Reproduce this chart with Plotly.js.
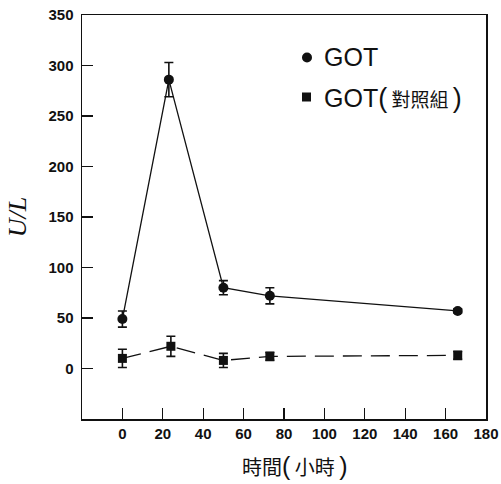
<!DOCTYPE html>
<html><head><meta charset="utf-8">
<script src="https://cdn.plot.ly/plotly-3.0.1.min.js"></script>
<style>html,body{margin:0;padding:0;background:#fff;}#chart{width:501px;height:484px;}</style>
</head><body><div id="chart"></div>
<script>
// Data
var timeGot = [0, 23, 50, 73, 166];
var gotValues = [49, 286, 80, 72, 57];
var gotErrors = [8, 17, 7, 8, 2];

var timeCtl = [0, 24, 50, 73, 166];
var ctlValues = [10, 22, 8, 12, 13];
var ctlErrors = [9, 10, 7, 4, 4];

var xTicks = [0, 20, 40, 60, 80, 100, 120, 140, 160, 180];
var yTicks = [0, 50, 100, 150, 200, 250, 300, 350];

var seriesNames = ['GOT', 'GOT(對照組)'];
var xTitle = ['時間', '小時'];

var tickFont = {family: 'Liberation Sans, Arial, sans-serif', size: 15, color: '#111', weight: 'bold'};
var latin = 'Liberation Sans';
var cjk = 'Noto Sans CJK TC';

var traces = [
  {
    x: timeGot, y: gotValues, name: seriesNames[0], type: 'scatter', mode: 'lines+markers',
    line: {color: '#111', width: 1.3},
    marker: {symbol: 'circle', size: 10, color: '#111'},
    error_y: {type: 'data', array: gotErrors, visible: true, color: '#111', thickness: 1.6, width: 4.5},
    showlegend: false
  },
  {
    x: timeCtl, y: ctlValues, name: seriesNames[1], type: 'scatter', mode: 'lines+markers',
    line: {color: '#111', width: 1.3, dash: '19px,9px'},
    marker: {symbol: 'square', size: 9, color: '#111'},
    error_y: {type: 'data', array: ctlErrors, visible: true, color: '#111', thickness: 1.6, width: 4.5},
    showlegend: false
  }
];

function px2x(p) { return (p - 82) / 404; }
function px2y(p) { return (419 - p) / 404; }

var paren = function (c, s) { return '<span style="font-family:' + latin + ';font-size:' + s + 'px">' + c + '</span>'; };
var cjkSpan = function (t, s) { return '<span style="font-family:' + cjk + ';font-size:' + s + 'px">' + t + '</span>'; };

var layout = {
  width: 501, height: 484,
  margin: {l: 82, r: 15, t: 15, b: 65},
  paper_bgcolor: '#fff', plot_bgcolor: '#fff',
  showlegend: false,
  xaxis: {
    range: [-20, 180], tickvals: xTicks, ticktext: xTicks.map(String),
    ticks: 'inside', ticklen: 11, tickwidth: 1.3, tickcolor: '#111',
    showline: true, linecolor: '#111', linewidth: 1.5, mirror: true,
    showgrid: false, zeroline: false, tickfont: tickFont
  },
  yaxis: {
    range: [-50, 350], tickvals: yTicks, ticktext: yTicks.map(String),
    ticks: 'inside', ticklen: 11, tickwidth: 1.3, tickcolor: '#111',
    showline: true, linecolor: '#111', linewidth: 1.5, mirror: true,
    showgrid: false, zeroline: false, tickfont: tickFont, ticklabelstandoff: 4,
    title: {text: '<i>U/L</i>', font: {family: 'Liberation Serif, serif', size: 26, color: '#111'}, standoff: 14}
  },
  annotations: [
    {xref: 'paper', yref: 'paper', x: px2x(295), y: px2y(466), xanchor: 'center', yanchor: 'middle', showarrow: false,
     text: xTitle[0] + paren('(', 25) + '\u00a0' + xTitle[1] + '\u00a0' + paren(')', 25),
     font: {family: cjk + ', sans-serif', size: 20, color: '#111'}},
    {xref: 'paper', yref: 'paper', x: px2x(322), y: px2y(57), xanchor: 'left', yanchor: 'middle', showarrow: false,
     text: seriesNames[0], font: {family: latin + ', sans-serif', size: 25, color: '#111'}},
    {xref: 'paper', yref: 'paper', x: px2x(322), y: px2y(98), xanchor: 'left', yanchor: 'middle', showarrow: false,
     text: 'GOT' + paren('(', 27) + cjkSpan('\u00a0對照組\u00a0', 19) + paren(')', 27),
     font: {family: latin + ', sans-serif', size: 25, color: '#111'}}
  ],
  shapes: [
    {type: 'circle', xref: 'paper', yref: 'paper', x0: px2x(302), x1: px2x(312), y0: px2y(62.5), y1: px2y(52.5), fillcolor: '#111', line: {width: 0}},
    {type: 'rect', xref: 'paper', yref: 'paper', x0: px2x(302), x1: px2x(311), y0: px2y(101.5), y1: px2y(92.5), fillcolor: '#111', line: {width: 0}}
  ]
};

Plotly.newPlot('chart', traces, layout, {displayModeBar: false, staticPlot: true});
</script>
</body></html>
